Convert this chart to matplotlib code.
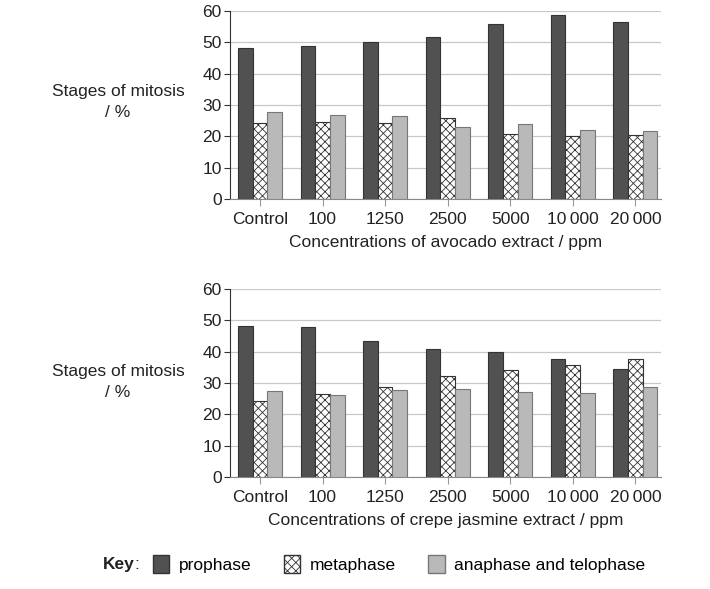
import matplotlib
matplotlib.use("Agg")
import matplotlib.pyplot as plt
import numpy as np
from matplotlib.patches import Patch

plt.rcParams['font.family'] = ['Liberation Sans', 'DejaVu Sans']
plt.rcParams['hatch.linewidth'] = 0.6

categories = ['Control', '100', '1250', '2500', '5000', '10\u2009000', '20\u2009000']

avocado_prophase = [48.3, 48.7, 50.0, 51.6, 55.7, 58.7, 56.4]
avocado_metaphase = [24.4, 24.7, 24.2, 25.8, 20.6, 20.2, 20.4]
avocado_anaphase = [27.7, 26.9, 26.6, 22.9, 24.0, 22.1, 21.7]

jasmine_prophase = [48.3, 47.9, 43.5, 40.9, 39.9, 37.8, 34.4]
jasmine_metaphase = [24.3, 26.5, 28.7, 32.1, 34.0, 35.9, 37.8]
jasmine_anaphase = [27.6, 26.2, 27.8, 28.1, 27.0, 26.8, 28.7]

dark = '#515151'
light = '#b9b9b9'
edge = '#333333'
w = 0.235
fs = 12.5

fig = plt.figure(figsize=(7.1, 5.89), dpi=100)


def draw(ax, pro, meta, ana, xlabel):
    x = np.arange(len(categories))
    ax.bar(x - w, pro, w, color=dark, edgecolor=edge, linewidth=0.8, zorder=3)
    ax.bar(x, meta, w, color='white', edgecolor=edge, linewidth=0.8,
           hatch='xxxx', zorder=3)
    ax.bar(x + w, ana, w, color=light, edgecolor='#777777', linewidth=0.8, zorder=3)
    ax.set_xlim(-0.48, 6.41)
    ax.set_ylim(0, 60)
    ax.set_yticks(range(0, 61, 10))
    ax.set_xticks(x)
    ax.set_xticklabels(categories)
    ax.yaxis.grid(True, color='#c8c8c8', linewidth=0.9, zorder=0)
    ax.set_axisbelow(True)
    for s in ['top', 'right']:
        ax.spines[s].set_visible(False)
    ax.spines['left'].set_color('#333333')
    ax.spines['bottom'].set_color('#888888')
    ax.tick_params(axis='x', colors='#999999', labelcolor='#222222',
                   labelsize=fs, length=5, pad=4)
    ax.tick_params(axis='y', colors='#333333', labelcolor='#222222',
                   labelsize=fs, length=4, pad=2)
    ax.set_xlabel(xlabel, fontsize=fs, color='#222222', labelpad=6)


ax1 = fig.add_axes([230 / 710, 1 - 199 / 589, 431 / 710, 188 / 589])
draw(ax1, avocado_prophase, avocado_metaphase, avocado_anaphase,
     'Concentrations of avocado extract / ppm')
ax2 = fig.add_axes([230 / 710, 1 - 477 / 589, 431 / 710, 188 / 589])
draw(ax2, jasmine_prophase, jasmine_metaphase, jasmine_anaphase,
     'Concentrations of crepe jasmine extract / ppm')

for yc in [102, 382]:
    fig.text(118 / 710, 1 - yc / 589, 'Stages of mitosis\n/ %', ha='center',
             va='center', fontsize=fs, color='#222222', linespacing=1.55)

fig.text(103 / 710, 1 - 569 / 589, 'Key', fontweight='bold', fontsize=fs,
         va='baseline', color='#222222')
fig.text(134 / 710, 1 - 569 / 589, ':', fontsize=fs, va='baseline', color='#222222')

handles = [
    Patch(facecolor=dark, edgecolor=edge, label='prophase'),
    Patch(facecolor='white', edgecolor=edge, hatch='xxxx', label='metaphase'),
    Patch(facecolor=light, edgecolor='#777777', label='anaphase and telophase'),
]
fig.legend(handles=handles, loc='center left', ncol=3,
           bbox_to_anchor=(146 / 710, 1 - 564 / 589), frameon=False,
           fontsize=fs, handlelength=0.95, handleheight=1.2,
           handletextpad=0.55, columnspacing=1.85, borderaxespad=0)

fig.savefig('out.png', dpi=100)
